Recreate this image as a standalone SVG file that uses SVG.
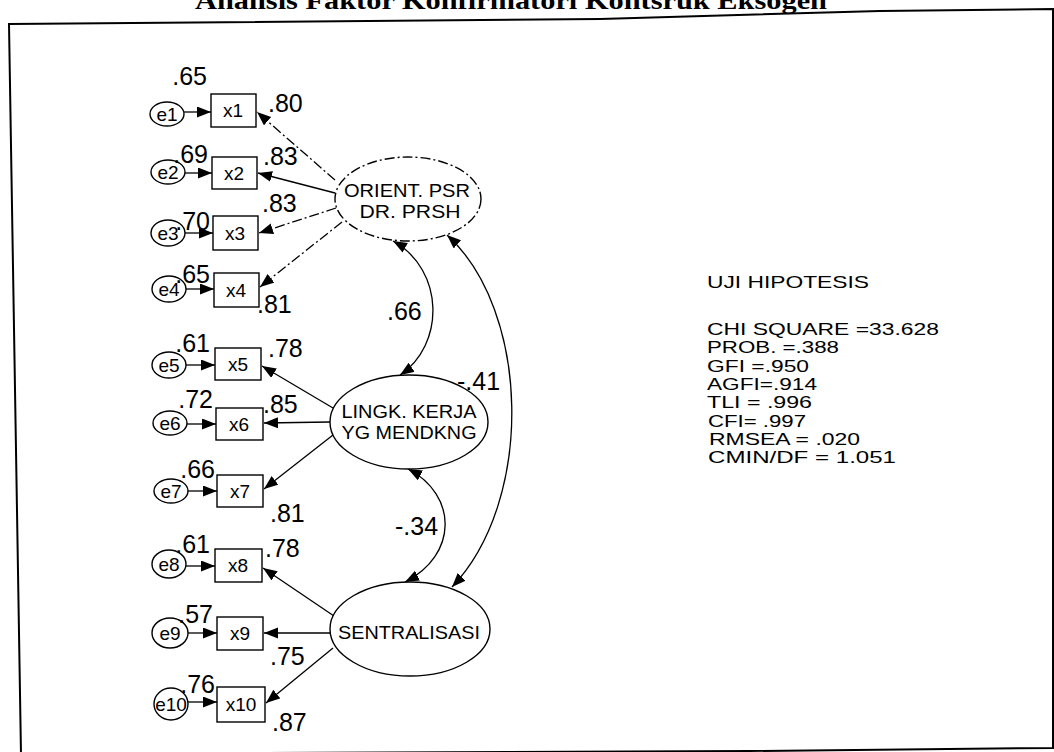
<svg xmlns="http://www.w3.org/2000/svg" width="1054" height="752" viewBox="0 0 1054 752">
<defs>
<marker id="ah" markerUnits="userSpaceOnUse" markerWidth="15" markerHeight="12" refX="14" refY="5.5" orient="auto-start-reverse">
<path d="M0,0 L14,5.5 L0,11 z" fill="#000"/>
</marker>
<style>
.t{font-family:"Liberation Sans",Arial,sans-serif;fill:#000}
.n{font-size:18px;text-anchor:middle}
.v{font-size:19px;text-anchor:middle}
.num{font-size:25px}
.st{font-size:17px}
.sh{fill:#fff;stroke:#000;stroke-width:1.4}
.ln{fill:none;stroke:#000;stroke-width:1.3}
.dl{stroke-dasharray:10 3 2 3}
.ar{marker-end:url(#ah)}
.bi{marker-start:url(#ah);marker-end:url(#ah)}
</style>
</defs>
<rect width="1054" height="752" fill="#fff"/>
<text x="195" y="9" font-family="Liberation Serif,'Times New Roman',serif" font-weight="bold" font-size="26" textLength="632" lengthAdjust="spacingAndGlyphs">Analisis Faktor Konfirmatori Kontsruk Eksogen</text>
<path d="M9,24 L600,19 L880,11 L1053,9 L1053,748 L750,751 L21,754 Z" fill="none" stroke="#000" stroke-width="2"/>
<g id="connectors">
<path class="ln ar" d="M184,112 L211,112"/>
<path class="ln ar" d="M185,173 L212,173"/>
<path class="ln ar" d="M185,233 L213,233"/>
<path class="ln ar" d="M186,289 L214,289"/>
<path class="ln ar" d="M186,365 L215,365"/>
<path class="ln ar" d="M187,424 L216,424"/>
<path class="ln ar" d="M188,491 L217,491"/>
<path class="ln ar" d="M186,566 L215,566"/>
<path class="ln ar" d="M188,633 L217,633"/>
<path class="ln ar" d="M188,702 L217,702"/>
<path class="ln ar dl" d="M335,180 L257,112"/>
<path class="ln ar" d="M335,193 L258,173"/>
<path class="ln ar dl" d="M336,208 L259,233"/>
<path class="ln ar dl" d="M342,222 L260,287"/>
<path class="ln ar" d="M333,408 L262,366"/>
<path class="ln ar" d="M330,422 L264,423"/>
<path class="ln ar" d="M333,435 L264,489"/>
<path class="ln ar" d="M334,616 L263,568"/>
<path class="ln ar" d="M330,633 L264,633"/>
<path class="ln ar" d="M333,648 L266,703"/>
<path class="ln bi" d="M393,241 C445,270 445,345 400,375"/>
<path class="ln bi" d="M447,235 C530,310 535,500 452,587"/>
<path class="ln bi" d="M408,469 C458,495 458,555 405,582"/>
</g>
<g id="e1"><ellipse class="sh" cx="167" cy="114" rx="17" ry="12"/><text class="t v" x="167" y="121">e1</text></g>
<g id="e2"><ellipse class="sh" cx="168" cy="172" rx="17" ry="12"/><text class="t v" x="168" y="179">e2</text></g>
<g id="e3"><ellipse class="sh" cx="168" cy="233" rx="17" ry="13"/><text class="t v" x="168" y="240">e3</text></g>
<g id="e4"><ellipse class="sh" cx="169" cy="289" rx="17" ry="13"/><text class="t v" x="169" y="296">e4</text></g>
<g id="e5"><ellipse class="sh" cx="169" cy="365" rx="17" ry="13"/><text class="t v" x="169" y="372">e5</text></g>
<g id="e6"><ellipse class="sh" cx="170" cy="423" rx="17" ry="12"/><text class="t v" x="170" y="430">e6</text></g>
<g id="e7"><ellipse class="sh" cx="171" cy="491" rx="17" ry="12"/><text class="t v" x="171" y="498">e7</text></g>
<g id="e8"><ellipse class="sh" cx="169" cy="564" rx="17" ry="14"/><text class="t v" x="169" y="571">e8</text></g>
<g id="e9"><ellipse class="sh" cx="170" cy="633" rx="18" ry="15"/><text class="t v" x="170" y="640">e9</text></g>
<g id="e10"><ellipse class="sh" cx="171" cy="704" rx="17" ry="16"/><text class="t v" x="171" y="711">e10</text></g>
<g id="x1"><rect class="sh" x="211" y="94" width="45" height="33"/><text class="t v" x="233" y="117">x1</text></g>
<g id="x2"><rect class="sh" x="212" y="157" width="45" height="32"/><text class="t v" x="234" y="180">x2</text></g>
<g id="x3"><rect class="sh" x="213" y="216" width="45" height="34"/><text class="t v" x="235" y="240">x3</text></g>
<g id="x4"><rect class="sh" x="214" y="273" width="45" height="34"/><text class="t v" x="236" y="297">x4</text></g>
<g id="x5"><rect class="sh" x="215" y="348" width="46" height="32"/><text class="t v" x="238" y="371">x5</text></g>
<g id="x6"><rect class="sh" x="216" y="408" width="47" height="32"/><text class="t v" x="239" y="431">x6</text></g>
<g id="x7"><rect class="sh" x="217" y="475" width="46" height="32"/><text class="t v" x="240" y="498">x7</text></g>
<g id="x8"><rect class="sh" x="215" y="549" width="47" height="33"/><text class="t v" x="238" y="572">x8</text></g>
<g id="x9"><rect class="sh" x="217" y="617" width="46" height="33"/><text class="t v" x="240" y="640">x9</text></g>
<g id="x10"><rect class="sh" x="217" y="687" width="48" height="35"/><text class="t v" x="241" y="711">x10</text></g>
<g id="orient"><ellipse class="sh dl" cx="408" cy="199" rx="73" ry="42"/><text class="t n" x="407" y="197" textLength="126" lengthAdjust="spacingAndGlyphs">ORIENT. PSR</text><text class="t n" x="410" y="218" textLength="101" lengthAdjust="spacingAndGlyphs">DR. PRSH</text></g>
<g id="lingk"><ellipse class="sh" cx="409" cy="422" rx="79" ry="47"/><text class="t n" x="409" y="418" textLength="135" lengthAdjust="spacingAndGlyphs">LINGK. KERJA</text><text class="t n" x="409" y="439" textLength="135" lengthAdjust="spacingAndGlyphs">YG MENDKNG</text></g>
<g id="sentralisasi"><ellipse class="sh" cx="410" cy="629" rx="80" ry="47"/><text class="t n" x="409" y="639" textLength="142" lengthAdjust="spacingAndGlyphs">SENTRALISASI</text></g>
<g id="labels" class="t num">
<text x="207" y="85" text-anchor="end">.65</text>
<text x="208" y="163" text-anchor="end">.69</text>
<text x="210" y="230" text-anchor="end">.70</text>
<text x="210" y="283" text-anchor="end">.65</text>
<text x="210" y="352" text-anchor="end">.61</text>
<text x="213" y="408" text-anchor="end">.72</text>
<text x="215" y="478" text-anchor="end">.66</text>
<text x="210" y="553" text-anchor="end">.61</text>
<text x="213" y="623" text-anchor="end">.57</text>
<text x="215" y="693" text-anchor="end">.76</text>
<text x="268" y="112">.80</text>
<text x="263" y="165">.83</text>
<text x="262" y="212">.83</text>
<text x="257" y="313">.81</text>
<text x="268" y="357">.78</text>
<text x="263" y="413">.85</text>
<text x="270" y="522">.81</text>
<text x="265" y="557">.78</text>
<text x="270" y="665">.75</text>
<text x="272" y="731">.87</text>
<text x="387" y="320">.66</text>
<text x="457" y="390">-.41</text>
<text x="395" y="535">-.34</text>
</g>
<g id="stats" class="t st">
<text x="707" y="288" textLength="162" lengthAdjust="spacingAndGlyphs">UJI HIPOTESIS</text>
<text x="707" y="335" textLength="232" lengthAdjust="spacingAndGlyphs">CHI SQUARE =33.628</text>
<text x="707" y="353" textLength="132" lengthAdjust="spacingAndGlyphs">PROB. =.388</text>
<text x="707" y="372" textLength="102" lengthAdjust="spacingAndGlyphs">GFI =.950</text>
<text x="707" y="390" textLength="110" lengthAdjust="spacingAndGlyphs">AGFI=.914</text>
<text x="707" y="408" textLength="105" lengthAdjust="spacingAndGlyphs">TLI = .996</text>
<text x="708" y="427" textLength="98" lengthAdjust="spacingAndGlyphs">CFI= .997</text>
<text x="709" y="445" textLength="151" lengthAdjust="spacingAndGlyphs">RMSEA = .020</text>
<text x="708" y="463" textLength="188" lengthAdjust="spacingAndGlyphs">CMIN/DF = 1.051</text>
</g>
</svg>
